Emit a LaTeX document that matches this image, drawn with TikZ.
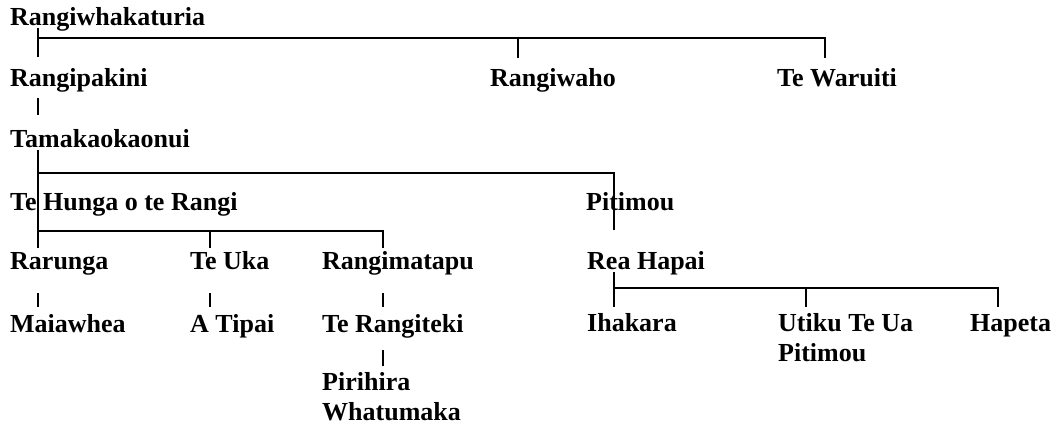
\documentclass[tikz,border=0pt]{standalone}
\usepackage{fontspec}
\setmainfont{Liberation Serif}
\newcommand{\twolines}[2]{\vtop{\baselineskip=30pt\hbox{#1}\hbox{#2}}}
\begin{document}
\begin{tikzpicture}[x=1pt,y=1pt,
  person/.style={anchor=base west,inner sep=0pt,font=\fontsize{26}{30}\selectfont\bfseries},
  link/.style={line width=1.5pt,black}]
\useasboundingbox (0,0) rectangle (1057,-429);
% people
\node[person] (n0) at (10,-25) {Rangiwhakaturia};
\node[person] (n1) at (10,-86) {Rangipakini};
\node[person] (n2) at (490,-86) {Rangiwaho};
\node[person] (n3) at (777,-86) {Te Waruiti};
\node[person] (n4) at (10,-147) {Tamakaokaonui};
\node[person] (n5) at (10,-210) {Te Hunga o te Rangi};
\node[person] (n6) at (586,-210) {Pitimou};
\node[person] (n7) at (10,-269) {Rarunga};
\node[person] (n8) at (190,-269) {Te Uka};
\node[person] (n9) at (322,-269) {Rangimatapu};
\node[person] (n10) at (587,-269) {Rea Hapai};
\node[person] (n11) at (10,-332) {Maiawhea};
\node[person] (n12) at (190,-332) {A Tipai};
\node[person] (n13) at (322,-332) {Te Rangiteki};
\node[person] (n14) at (587,-331) {Ihakara};
\node[person] (n15) at (778,-331) {\twolines{Utiku Te Ua}{Pitimou}};
\node[person] (n16) at (970,-331) {Hapeta};
\node[person] (n17) at (322,-390) {\twolines{Pirihira}{Whatumaka}};
% Rangiwhakaturia's children
\draw[link] ([shift={(28,-3)}]n0.base west) -- ([shift={(28,29)}]n1.base west);
\draw[link] ([shift={(28,-13)}]n0.base west) -| ([shift={(28,28)}]n2.base west);
\draw[link] ([shift={(28,-13)}]n0.base west) -| ([shift={(48,28)}]n3.base west);
% Rangipakini -> Tamakaokaonui
\draw[link] ([shift={(28,-12)}]n1.base west) -- ([shift={(28,32)}]n4.base west);
% Tamakaokaonui's children, and Te Hunga o te Rangi's trunk
\draw[link] ([shift={(28,-3)}]n4.base west) -- ([shift={(28,21)}]n7.base west);
\draw[link] ([shift={(28,-26)}]n4.base west) -| ([shift={(27,39)}]n10.base west);
% Te Hunga o te Rangi's children
\draw[link] ([shift={(28,-21)}]n5.base west) -| ([shift={(20,21)}]n8.base west);
\draw[link] ([shift={(28,-21)}]n5.base west) -| ([shift={(61,21)}]n9.base west);
% single descents
\draw[link] ([shift={(28,-24)}]n7.base west) -- ([shift={(28,25)}]n11.base west);
\draw[link] ([shift={(20,-24)}]n8.base west) -- ([shift={(20,25)}]n12.base west);
\draw[link] ([shift={(61,-24)}]n9.base west) -- ([shift={(61,25)}]n13.base west);
\draw[link] ([shift={(61,-18)}]n13.base west) -- ([shift={(61,24)}]n17.base west);
% Rea Hapai's children
\draw[link] ([shift={(27,-3)}]n10.base west) -- ([shift={(27,24)}]n14.base west);
\draw[link] ([shift={(27,-19)}]n10.base west) -| ([shift={(28,24)}]n15.base west);
\draw[link] ([shift={(27,-19)}]n10.base west) -| ([shift={(28,24)}]n16.base west);
\end{tikzpicture}
\end{document}
